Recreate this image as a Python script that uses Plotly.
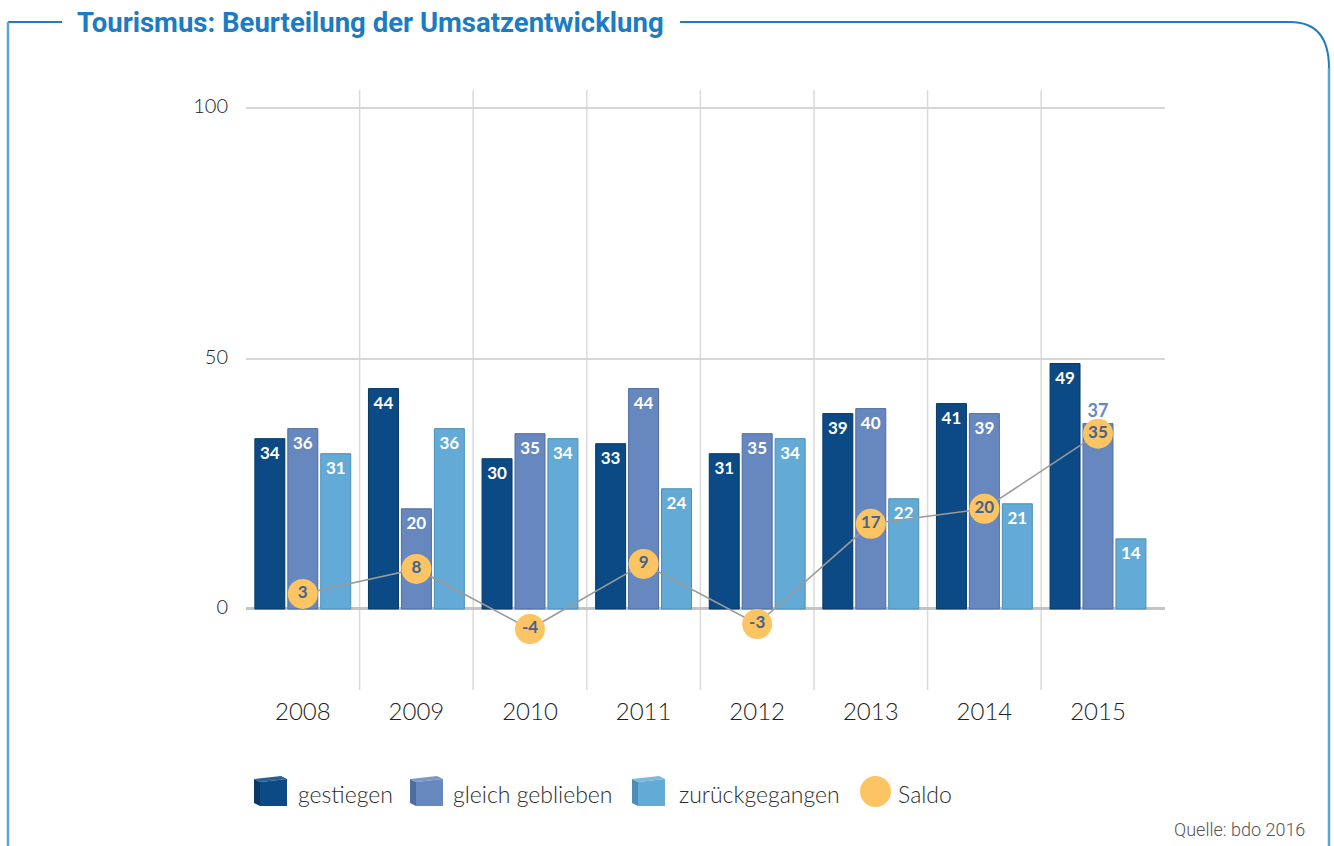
import plotly.graph_objects as go

# ---------------- data ----------------
years = ["2008", "2009", "2010", "2011", "2012", "2013", "2014", "2015"]
gestiegen = [34, 44, 30, 33, 31, 39, 41, 49]
gleich_geblieben = [36, 20, 35, 44, 35, 40, 39, 37]
zurueckgegangen = [31, 36, 34, 24, 34, 22, 21, 14]
saldo = [3, 8, -4, 9, -3, 17, 20, 35]
y_ticks = [0, 50, 100]

series_names = ["gestiegen", "gleich geblieben", "zurückgegangen"]
series_colors = ["#0B4A84", "#6788BE", "#63ABD6"]
edge_colors = ["#083866", "#4F6D9E", "#4A8DB5"]
saldo_color = "#FCC462"

W, H = 1334, 846
ML, MR, MT, MB = 246, W - 1165, 90, H - 690
PW, PH = W - ML - MR, H - MT - MB


def px(x, y):
    """pixel -> paper coordinates"""
    return (x - ML) / PW, (H - MB - y) / PH


fig = go.Figure()

series_values = [gestiegen, gleich_geblieben, zurueckgegangen]
for name, vals, col, edge in zip(series_names, series_values, series_colors, edge_colors):
    positions = []
    colors = []
    for i, v in enumerate(vals):
        # the 2015 "gleich geblieben" label sits above its bar (saldo bubble overlaps)
        if name == "gleich geblieben" and years[i] == "2015":
            positions.append("outside")
            colors.append(col)
        else:
            positions.append("inside")
            colors.append("white")
    fig.add_trace(go.Bar(
        x=years, y=vals, name=name,
        marker=dict(color=col, line=dict(color=edge, width=1)),
        text=[str(v) for v in vals],
        textposition=positions,
        insidetextanchor="end",
        textangle=0,
        constraintext="none",
        textfont=dict(family="Lato", size=17, color=colors, weight="bold"),
        outsidetextfont=dict(family="Lato", size=18, color=colors, weight="bold"),
        cliponaxis=False,
        showlegend=False,
    ))

fig.add_trace(go.Scatter(
    x=years, y=saldo, name="Saldo",
    mode="lines+markers+text",
    line=dict(color="#9A9A9A", width=1.6),
    marker=dict(color=saldo_color, size=30, line=dict(width=0)),
    text=[str(v) for v in saldo],
    textposition="middle center",
    textfont=dict(family="Lato", size=17, color="#45638F", weight="bold"),
    cliponaxis=False,
    showlegend=False,
))

shapes = []
# vertical category separators
for k in range(len(years) - 1):
    shapes.append(dict(type="line", xref="x", yref="paper",
                       x0=k + 0.5, x1=k + 0.5, y0=0, y1=1,
                       line=dict(color="#DADADA", width=1.5), layer="below"))


def path(points, close=False):
    s = ""
    for j, (x, y) in enumerate(points):
        X, Y = px(x, y)
        s += ("M" if j == 0 else "L") + f"{X:.5f},{Y:.5f} "
    if close:
        s += "Z"
    return s


# frame
top_dark = "#1C7CC4"
side_light = "#5AA4D6"
shapes.append(dict(type="path", xref="paper", yref="paper",
                   path=path([(8, 22), (62, 22)]), line=dict(color=top_dark, width=2)))
shapes.append(dict(type="path", xref="paper", yref="paper",
                   path=path([(8, 846), (8, 22)]), line=dict(color=side_light, width=2.5)))
a = px(680, 22); b = px(1290, 22); c = px(1329, 22); d = px(1329, 68)
shapes.append(dict(type="path", xref="paper", yref="paper",
                   path=f"M{a[0]:.5f},{a[1]:.5f} L{b[0]:.5f},{b[1]:.5f} Q{c[0]:.5f},{c[1]:.5f} {d[0]:.5f},{d[1]:.5f}",
                   line=dict(color=top_dark, width=2)))
shapes.append(dict(type="path", xref="paper", yref="paper",
                   path=path([(1329, 68), (1329, 846)]), line=dict(color=side_light, width=2.5)))

# legend (manual, 3D box icons)
icon_left = [254, 410, 632]
top_colors = ["#2A5F92", "#8099C4", "#7FB9DC"]
for lx, col, edge, tcol in zip(icon_left, series_colors, edge_colors, top_colors):
    shapes.append(dict(type="path", xref="paper", yref="paper",
                       path=path([(lx, 779), (lx + 6, 782), (lx + 6, 806), (lx, 803)], close=True),
                       fillcolor=edge, line=dict(width=0)))
    shapes.append(dict(type="path", xref="paper", yref="paper",
                       path=path([(lx, 779), (lx + 27, 776), (lx + 33, 779), (lx + 6, 782)], close=True),
                       fillcolor=tcol, line=dict(width=0)))
    shapes.append(dict(type="path", xref="paper", yref="paper",
                       path=path([(lx + 6, 782), (lx + 33, 779), (lx + 33, 806), (lx + 6, 806)], close=True),
                       fillcolor=col, line=dict(width=0)))
c0 = px(860, 776); c1 = px(891, 807)
shapes.append(dict(type="circle", xref="paper", yref="paper",
                   x0=c0[0], x1=c1[0], y0=c1[1], y1=c0[1],
                   fillcolor=saldo_color, line=dict(width=0)))

annotations = []
legend_text_x = [296, 451, 677, 896]
for name, lx in zip(series_names + ["Saldo"], legend_text_x):
    X, Y = px(lx, 794)
    annotations.append(dict(xref="paper", yref="paper", x=X, y=Y, text=name,
                            showarrow=False, xanchor="left", yanchor="middle",
                            font=dict(family="Lato", size=23, color="#2B2B2B", weight=300)))

# title
X, Y = px(75, 22)
annotations.append(dict(xref="paper", yref="paper", x=X, y=Y,
                        text="<b>Tourismus: Beurteilung der Umsatzentwicklung</b>",
                        showarrow=False, xanchor="left", yanchor="middle",
                        font=dict(family="Roboto", size=27.5, color="#1B7BC3")))
# source
X, Y = px(1307, 829)
annotations.append(dict(xref="paper", yref="paper", x=X, y=Y, text="Quelle: bdo 2016",
                        showarrow=False, xanchor="right", yanchor="middle",
                        font=dict(family="Roboto", size=18, color="#555555", weight=300)))

fig.update_layout(
    width=W, height=H,
    margin=dict(l=ML, r=MR, t=MT, b=MB, pad=0),
    paper_bgcolor="white", plot_bgcolor="white",
    barmode="group", bargap=0.13, bargroupgap=0.09,
    showlegend=False,
    shapes=shapes, annotations=annotations,
    xaxis=dict(range=[-0.5, 7.59], showgrid=False, zeroline=False, showline=False,
               ticks="", tickfont=dict(family="Lato", size=24, color="#222222", weight=300),
               ticklabelstandoff=5, fixedrange=True),
    yaxis=dict(range=[-16.17, 103.6], tickvals=y_ticks, ticktext=[str(t) for t in y_ticks],
               showgrid=True, gridcolor="#D6D6D6", gridwidth=1.5,
               zeroline=True, zerolinecolor="#C4C4C4", zerolinewidth=2.5,
               showline=False, ticks="", ticklabelstandoff=17, ticklabelshift=-2,
               tickfont=dict(family="Lato", size=20, color="#222222", weight=300), fixedrange=True),
    font=dict(family="Lato"),
)

fig.write_html("out.html", config={"displayModeBar": False},
               post_script="document.body.style.margin='0';document.body.style.overflow='hidden';")
